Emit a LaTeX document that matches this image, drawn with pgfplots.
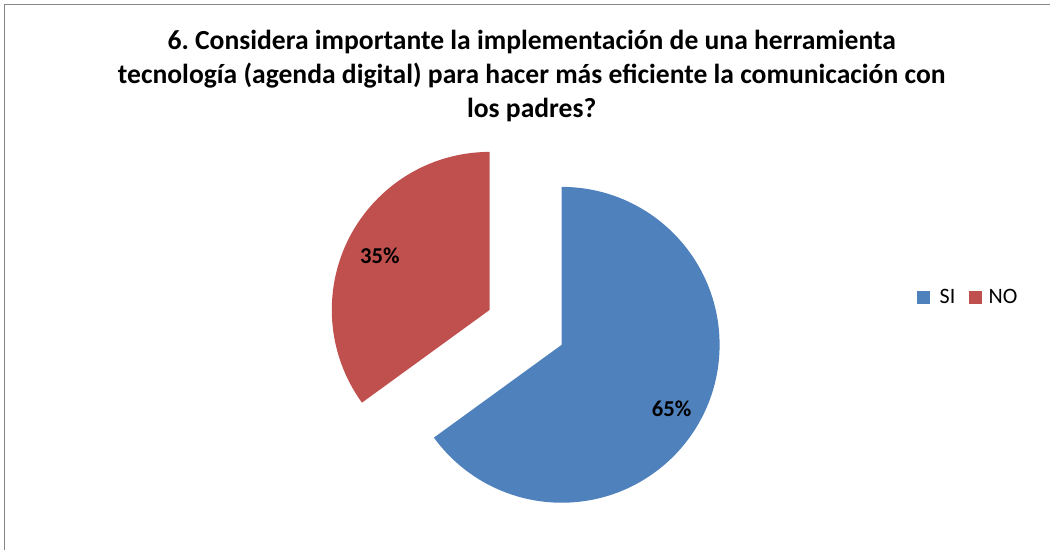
\documentclass[border=0pt]{standalone}
\usepackage{pgfplots}
\pgfplotsset{compat=1.18}
\usepackage{fontspec}
\setmainfont{Carlito}
\frenchspacing
\definecolor{siblue}{HTML}{4F81BD}
\definecolor{nored}{HTML}{C0504D}
\definecolor{frameg}{HTML}{868686}
\def\valSI{65}
\def\valNO{35}
\pgfmathsetmacro\endSI{90-3.6*\valSI}
\pgfmathsetmacro\endNO{90+3.6*\valNO}
\def\R{118.5pt}
\begin{document}
\begin{tikzpicture}
\begin{axis}[width=788.25pt,height=412.5pt,scale only axis,
  xmin=0,xmax=1051,ymin=0,ymax=550,hide axis,clip=false]
\addplot[draw=none] coordinates {(0,0) (1051,550)};
\fill[siblue] (axis cs:562,205) -- ++(90:\R) arc[start angle=90,end angle=\endSI,radius=\R] -- cycle;
\fill[nored] (axis cs:490,240) -- ++(90:\R) arc[start angle=90,end angle=\endNO,radius=\R] -- cycle;
\draw[frameg,line width=0.9pt] (axis cs:4.5,0) -- (axis cs:4.5,545.5) -- (axis cs:1051,545.5);
\node[font=\bfseries\fontsize{20.7}{25.5}\selectfont,anchor=base] at (axis cs:532,500) {6. Considera importante la implementación de una herramienta};
\node[font=\bfseries\fontsize{20.7}{25.5}\selectfont,anchor=base] at (axis cs:532,466) {tecnología (agenda digital) para hacer más eficiente la comunicación con};
\node[font=\bfseries\fontsize{20.7}{25.5}\selectfont,anchor=base] at (axis cs:532,432) {los padres?};
\node[font=\bfseries\fontsize{17}{20}\selectfont] at (axis cs:380,294) {\valNO\%};
\node[font=\bfseries\fontsize{17}{20}\selectfont] at (axis cs:672,141) {\valSI\%};
\fill[siblue] (axis cs:918,246) rectangle (axis cs:931,259);
\node[font=\fontsize{16.5}{19}\selectfont,anchor=base west,inner sep=0pt] at (axis cs:940,246) {SI};
\fill[nored] (axis cs:970,246) rectangle (axis cs:983,259);
\node[font=\fontsize{16.5}{19}\selectfont,anchor=base west,inner sep=0pt] at (axis cs:989,246) {NO};
\end{axis}
\end{tikzpicture}
\end{document}
